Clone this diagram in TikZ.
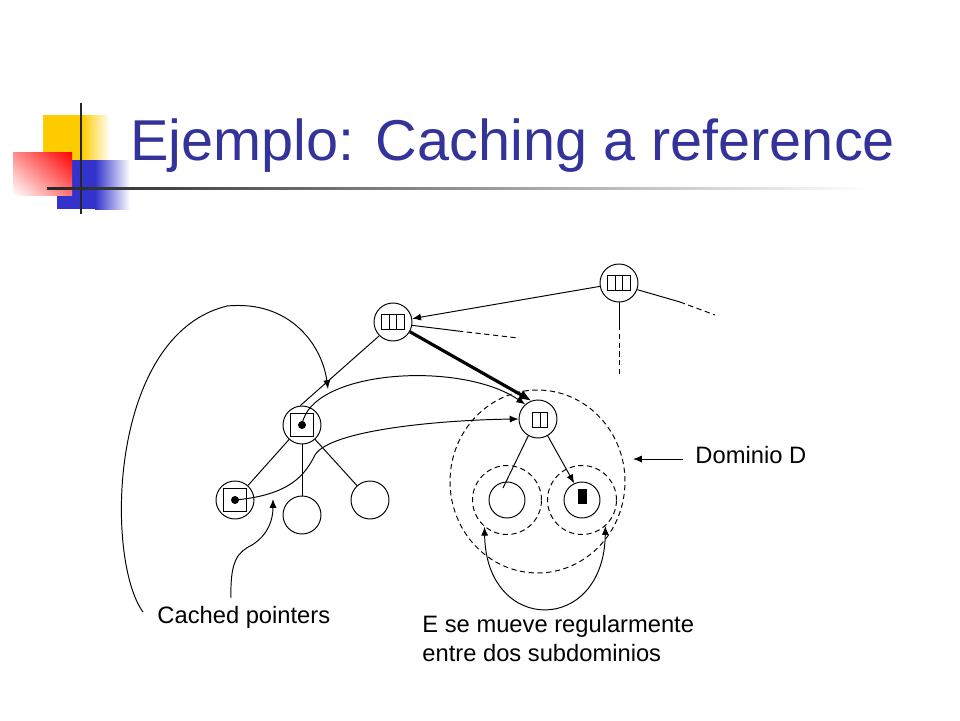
\documentclass[tikz,border=0pt]{standalone}
\usepackage{fontspec}
\setmainfont{Liberation Sans}
\usetikzlibrary{arrows.meta}
\usetikzlibrary{shapes.geometric}
\usetikzlibrary{shadings}
\usetikzlibrary{positioning}
\definecolor{titleblue}{RGB}{51, 51, 153}
\definecolor{decoyellow}{RGB}{255, 204, 0}
\definecolor{decoblue}{RGB}{51, 51, 204}
\definecolor{decored}{RGB}{255, 0, 0}

\tikzset{
  obj/.style={draw, circle, minimum size=0.76cm, inner sep=0pt},
  subobj/.style={draw, circle, minimum size=0.72cm, inner sep=0pt},
  subdom/.style={draw, circle, minimum size=1.38cm, inner sep=0pt, dash pattern=on 3pt off 2pt},
  dashline/.style={dash pattern=on 3pt off 2pt},
  ptr/.style={-{Latex[length=5pt, width=4pt]}},
  lbl/.style={font=\fontsize{13.5}{16.5}\selectfont, inner sep=0pt, align=left},
}

\begin{document}
\begin{tikzpicture}[x=0.02cm, y=-0.02cm, line width=0.55pt]
            \useasboundingbox (0,0) rectangle (960,720);
            % Title & decoration
            \fill[decoyellow]                                          ( 43,115) rectangle ( 82,160);
            \shade[left color=decoyellow, right color=white]           ( 82,115) rectangle (110,160);
            \fill[decoblue]                                            ( 57,160) rectangle ( 95,209);
            \shade[left color=decoblue, right color=white]             ( 95,160) rectangle (130,209);
            \shade[upper left=decored!45, upper right=decored,
                   lower right=decored!55, lower left=white]           ( 13,152) rectangle ( 72,195);
            \draw[line width=1.3pt, black!85]                          ( 81,103) -- ( 81,214);
            \shade[left color=black!85, right color=white]             ( 47,187) rectangle (870,189.5);
            \node[font=\fontsize{32.8}{40}\selectfont, text=titleblue, anchor=base west, inner sep=0pt]
                 (title) at (130,160) {Ejemplo: Caching a reference};
            % Objects
            \node[obj]    (R)  at (619,283) {};
            \node[obj]    (A)  at (393,322) {};
            \node[obj]    (B)  at (302,425) {};
            \node[obj]    (C)  at (235,500) {};
            \node[obj]    (D1) at (302,515) {};
            \node[obj]    (D2) at (370,500) {};
            \node[obj]    (E)  at (538,419) {};
            % Domain D and its subdomains
            \node[draw, ellipse, minimum width=3.5cm, minimum height=3.66cm, inner sep=0pt, dashline]
                          (dom) at (537.5,481.5) {};
            \node[subdom] (sdl) at (507,500) {};
            \node[subdom] (sdr) at (582,500) {};
            \node[subobj] (El)  at (507,500) {};
            \node[subobj] (Er)  at (582,500) {};
            % Contents
            \draw[shift={(R)}] (-11.5,-7.5) rectangle (11.5,7.5) (-3.8,-7.5) -- (-3.8,7.5) (3.8,-7.5) -- (3.8,7.5);
            \draw[shift={(A)}] (-11.5,-7.5) rectangle (11.5,7.5) (-3.8,-7.5) -- (-3.8,7.5) (3.8,-7.5) -- (3.8,7.5);
            \draw[shift={(E)}] (-5.5,-6.5) rectangle (9.5,8.5) (2,-6.5) -- (2,8.5);
            \draw[shift={(B)}] (-11.5,-11.5) rectangle (11.5,11.5);
            \fill (B) circle (4);
            \draw[shift={(C)}] (-11.5,-11.5) rectangle (11.5,11.5);
            \fill (C) circle (4);
            \fill[shift={(Er)}] (-4,-11) rectangle (5,4);
            % Tree edges
            \coordinate (Rright)    at (680,302);
            \coordinate (Rrightend) at (715,315);
            \coordinate (Rdown)     at (619,325);
            \coordinate (Rdownend)  at (619,375);
            \coordinate (Aright)    at (458,331);
            \coordinate (Arightend) at (518,338);
            \draw[ptr]            (R.190) -- (A.10);
            \draw                 (R.-20) -- (Rright);
            \draw[dashline]       (Rright) -- (Rrightend);
            \draw                 (R.south) -- (Rdown);
            \draw[dashline]       (Rdown) -- (Rdownend);
            \draw                 (A.-10) -- (Aright);
            \draw[dashline]       (Aright) -- (Arightend);
            \draw[line width=1.8pt, -{Latex[length=7pt, width=6pt]}] (A.-30) -- (E.110);
            \draw                 (A.225) -- (B.95);
            \draw                 (B) -- (C);
            \draw                 (B) -- (D1);
            \draw                 (B) -- (D2);
            \coordinate (Elin) at (503,488);
            \draw                 (E.240) -- (Elin);
            \draw[ptr]            (E.-60) -- (Er.115);
            % Cached pointers
            \draw[ptr] (B.center) .. controls (310,370) and (460,360) .. (E.131);
            \draw[ptr] (C.center) .. controls (290,495) and (305,475) .. (315,455)
                                  .. controls (330,430) and (440,420) .. (E.west);
            % Labels
            \node[lbl, anchor=base west] (cachedlbl) at (157,623) {Cached pointers};
            \node[lbl, anchor=base west] (movelbl)   at (422,661) {E se mueve regularmente\\entre dos subdominios};
            \node[lbl, anchor=west, inner xsep=0.24cm] (domlbl) at (683,455) {Dominio D};
            \coordinate (bigstart)   at (143,612);
            \coordinate (bigtip)     at (328,389);
            \coordinate (smallstart) at (231,598);
            \coordinate (smalltip)   at (273,499);
            \coordinate (domtip)     at (633,459);
            \draw[ptr] (bigstart) .. controls (105,560) and (108,335) .. (227,306)
                                  .. controls (290,300) and (322,345) .. (bigtip);
            \draw[ptr] (smallstart) .. controls (230,560) and (238,552) .. (252,545)
                                    .. controls (268,535) and (273,520) .. (smalltip);
            \draw[ptr] (domlbl.west |- domtip) -- (domtip);
            \draw[{Latex[length=5pt, width=4pt]}-{Latex[length=5pt, width=4pt]}]
                       (sdl.230) .. controls (486,635) and (604,635) .. (sdr.-48);
\end{tikzpicture}
\end{document}
